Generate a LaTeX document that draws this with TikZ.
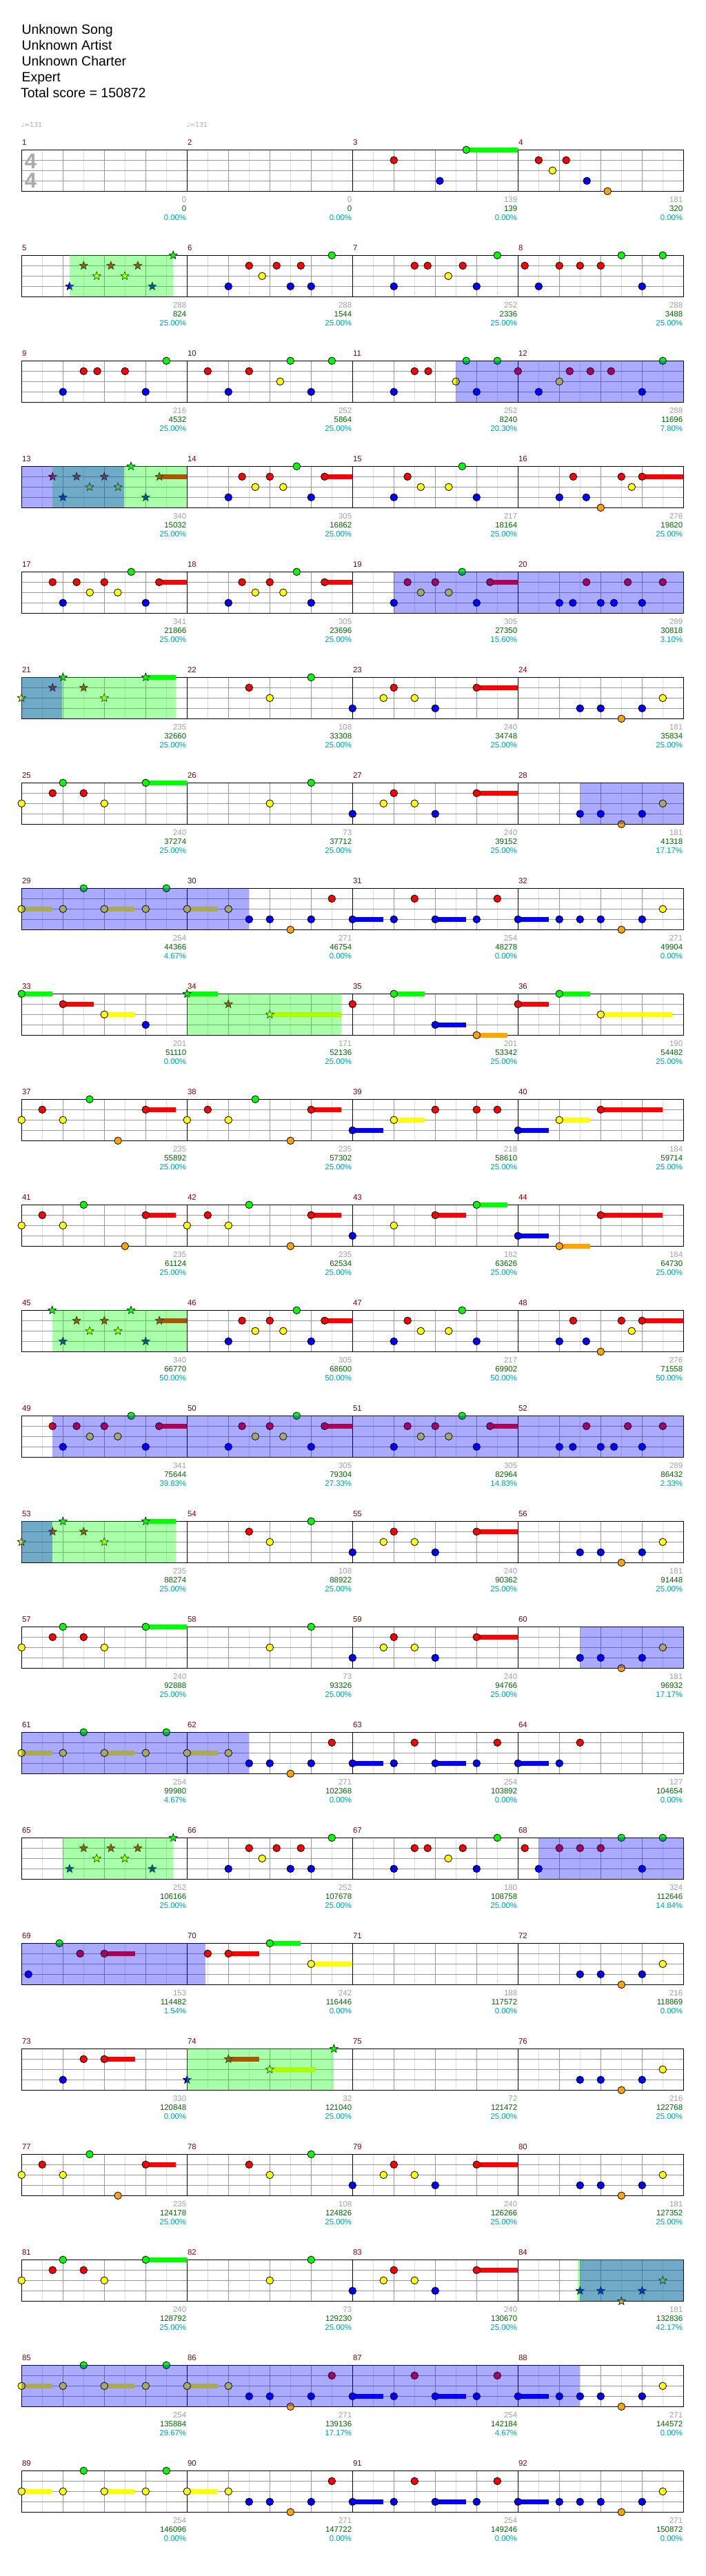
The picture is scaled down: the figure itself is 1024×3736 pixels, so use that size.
\documentclass[tikz,border=0pt]{standalone}
\usepackage{fontspec}
\setmainfont{Liberation Sans}
\newfontfamily\djv{DejaVu Sans}
\usetikzlibrary{shapes.geometric}
\pgfdeclarelayer{gridl}
\pgfdeclarelayer{susl}
\pgfdeclarelayer{overg}
\pgfdeclarelayer{overb}
\pgfsetlayers{gridl,susl,main,overg,overb}
\definecolor{lane0}{RGB}{0,255,0}
\definecolor{lane1}{RGB}{255,0,0}
\definecolor{lane2}{RGB}{255,255,0}
\definecolor{lane3}{RGB}{0,0,255}
\definecolor{lane4}{RGB}{255,165,0}
\definecolor{gridlt}{RGB}{221,221,221}
\definecolor{griddk}{RGB}{153,153,153}
\definecolor{mnum}{RGB}{128,0,0}
\definecolor{lgray}{RGB}{160,160,160}
\definecolor{lgreen}{RGB}{0,100,0}
\definecolor{lcyan}{RGB}{0,160,160}
\definecolor{tsig}{RGB}{170,170,170}
\newcounter{ntc}
\newcommand\mxy[3]{\pgfmathsetmacro\X{31.3+240*mod(#1-1,4)+30*#3}\pgfmathsetmacro\Y{217.3+153*floor((#1-1)/4)+15*#2}}
\newcommand\ntn[3]{\mxy{#1}{#2}{#3}\stepcounter{ntc}\node[note,fill=lane#2] (n\arabic{ntc}) at (\X,\Y) {};}
\newcommand\stn[3]{\mxy{#1}{#2}{#3}\stepcounter{ntc}\node[starnote,fill=lane#2] (n\arabic{ntc}) at (\X,\Y) {};}
\newcommand\sus[4]{\mxy{#1}{#2}{#3}\let\Xa\X\mxy{#1}{#2}{#4}\begin{pgfonlayer}{susl}\draw[line width=6.5,draw=lane#2] (\Xa,\Y) -- (\X,\Y);\end{pgfonlayer}}
\newcommand\greg[3]{\mxy{#1}{0}{#2}\let\Xa\X\let\Ya\Y\mxy{#1}{4}{#3}\begin{pgfonlayer}{overg}\fill[lane0,fill opacity=0.3333] (\Xa,\Ya) rectangle (\X,\Y);\end{pgfonlayer}}
\newcommand\breg[3]{\mxy{#1}{0}{#2}\let\Xa\X\let\Ya\Y\mxy{#1}{4}{#3}\begin{pgfonlayer}{overb}\fill[lane3,fill opacity=0.3333] (\Xa,\Ya) rectangle (\X,\Y);\end{pgfonlayer}}
\newcommand\mnum[1]{\pgfmathsetmacro\X{31.3+240*mod(#1-1,4)}\pgfmathsetmacro\Y{217.3+153*floor((#1-1)/4)}%
 \node[mlab] (m#1) at (\X+0.5,\Y-7) {#1};}
\newcommand\mlabel[4]{\mnum{#1}%
 \node[nlab,text=lgray] (g#1) at (\X+239,\Y+75.7) {#2};
 \node[nlab,text=lgreen] (s#1) at (\X+239,\Y+89) {#3};
 \node[nlab,text=lcyan] (p#1) at (\X+239,\Y+102) {#4\%};}
% patterns
\newcommand\rpA[1]{\ntn{#1}{3}{2}\ntn{#1}{1}{2.66}\ntn{#1}{2}{3.3}\ntn{#1}{1}{4}\ntn{#1}{2}{4.65}\ntn{#1}{0}{5.3}\ntn{#1}{3}{6}\sus{#1}{1}{6.65}{8}\ntn{#1}{1}{6.65}}
\newcommand\rpB[1]{\ntn{#1}{3}{2}\ntn{#1}{1}{2.66}\ntn{#1}{2}{3.3}\ntn{#1}{2}{4.65}\ntn{#1}{0}{5.3}\ntn{#1}{3}{6}}
\newcommand\rpC[1]{\ntn{#1}{3}{2}\ntn{#1}{1}{2.67}\ntn{#1}{3}{3.3}\ntn{#1}{4}{4}\ntn{#1}{1}{5}\ntn{#1}{2}{5.5}\sus{#1}{1}{6}{8}\ntn{#1}{1}{6}}
\newcommand\rpF[1]{\ntn{#1}{3}{2}\ntn{#1}{3}{2.65}\ntn{#1}{1}{3.31}\ntn{#1}{3}{4}\ntn{#1}{3}{4.64}\ntn{#1}{1}{5.31}\ntn{#1}{3}{6}\ntn{#1}{1}{7}}
\newcommand\rpG[1]{\stn{#1}{2}{0}\stn{#1}{1}{1.5}\stn{#1}{0}{2}\stn{#1}{1}{3}\stn{#1}{2}{4}\sus{#1}{0}{6}{7.47}\stn{#1}{0}{6}}
\newcommand\rpH[1]{\ntn{#1}{1}{3}\ntn{#1}{2}{4}\ntn{#1}{0}{6}}
\newcommand\rpI[1]{\ntn{#1}{3}{0}\ntn{#1}{2}{1.5}\ntn{#1}{1}{2}\ntn{#1}{2}{3}\ntn{#1}{3}{4}\sus{#1}{1}{6}{8}\ntn{#1}{1}{6}}
\newcommand\rpJ[1]{\ntn{#1}{3}{3}\ntn{#1}{3}{4}\ntn{#1}{4}{5}\ntn{#1}{3}{6}\ntn{#1}{2}{7}}
\newcommand\rpJs[1]{\stn{#1}{3}{3}\stn{#1}{3}{4}\stn{#1}{4}{5}\stn{#1}{3}{6}\stn{#1}{2}{7}}
\newcommand\rpK[1]{\ntn{#1}{2}{0}\ntn{#1}{1}{1.5}\ntn{#1}{0}{2}\ntn{#1}{1}{3}\ntn{#1}{2}{4}\sus{#1}{0}{6}{8}\ntn{#1}{0}{6}}
\newcommand\rpL[1]{\ntn{#1}{2}{4}\ntn{#1}{0}{6}}
\newcommand\rpM[1]{\sus{#1}{2}{0}{1.48}\ntn{#1}{2}{0}\ntn{#1}{2}{2}\ntn{#1}{0}{3}\sus{#1}{2}{4}{5.46}\ntn{#1}{2}{4}\ntn{#1}{2}{6}\ntn{#1}{0}{7}}
\newcommand\rpN[1]{\sus{#1}{2}{0}{1.48}\ntn{#1}{2}{0}\ntn{#1}{2}{2}\ntn{#1}{3}{3}\ntn{#1}{3}{4}\ntn{#1}{4}{5}\ntn{#1}{3}{6}\ntn{#1}{1}{7}}
\newcommand\rpO[1]{\sus{#1}{3}{0}{1.48}\ntn{#1}{3}{0}\ntn{#1}{3}{2}\ntn{#1}{1}{3}\sus{#1}{3}{4}{5.48}\ntn{#1}{3}{4}\ntn{#1}{3}{6}\ntn{#1}{1}{7}}
\newcommand\rpV[1]{\sus{#1}{3}{0}{1.48}\ntn{#1}{3}{0}\ntn{#1}{3}{2}\ntn{#1}{3}{3}\ntn{#1}{3}{4}\ntn{#1}{4}{5}\ntn{#1}{3}{6}\ntn{#1}{2}{7}}
\newcommand\rpU[1]{\ntn{#1}{2}{0}\ntn{#1}{1}{1}\ntn{#1}{2}{2}\ntn{#1}{0}{3.29}\ntn{#1}{4}{4.66}\sus{#1}{1}{6}{7.47}\ntn{#1}{1}{6}}
\newcommand\rpS[1]{\stn{#1}{3}{2}\stn{#1}{1}{2.66}\stn{#1}{2}{3.29}\stn{#1}{1}{4}\stn{#1}{2}{4.66}\stn{#1}{0}{5.29}\stn{#1}{3}{6}\sus{#1}{1}{6.66}{8}\stn{#1}{1}{6.66}}
\newcommand\rpP[1]{\stn{#1}{3}{2.32}\stn{#1}{1}{3}\stn{#1}{2}{3.63}\stn{#1}{1}{4.32}\stn{#1}{2}{4.99}\stn{#1}{1}{5.62}\stn{#1}{3}{6.32}\stn{#1}{0}{7.33}}
\newcommand\rpQ[1]{\ntn{#1}{3}{2}\ntn{#1}{1}{3}\ntn{#1}{2}{3.63}\ntn{#1}{1}{4.33}\ntn{#1}{3}{5}\ntn{#1}{1}{5.5}\ntn{#1}{3}{6}\ntn{#1}{0}{7}}
\newcommand\rpR[1]{\ntn{#1}{3}{2}\ntn{#1}{1}{3}\ntn{#1}{1}{3.63}\ntn{#1}{2}{4.63}\ntn{#1}{1}{5.33}\ntn{#1}{3}{6}\ntn{#1}{0}{7}}
\newcommand\rpT[1]{\ntn{#1}{1}{0.33}\ntn{#1}{3}{1}\ntn{#1}{1}{2}\ntn{#1}{1}{3}\ntn{#1}{1}{4}\ntn{#1}{0}{5}\ntn{#1}{3}{6}\ntn{#1}{0}{7}}
\begin{document}
\begin{tikzpicture}[x=1pt,y=-1pt,
  note/.style={circle,draw=black,line width=0.8,minimum size=10.6,inner sep=0},
  starnote/.style={star,star points=5,star point ratio=2.3,draw=black,line width=0.6,minimum size=12.5,inner sep=0},
  mlab/.style={anchor=base west,inner sep=0,text=mnum,font=\fontsize{11.4}{12}\selectfont},
  nlab/.style={anchor=base east,inner sep=0,font=\fontsize{11.4}{12}\selectfont},
  head/.style={anchor=base west,inner sep=0,font=\fontsize{19.5}{20}\selectfont}]
\useasboundingbox (0,0) rectangle (1024,3736);
\begin{pgfonlayer}{gridl}
\fill[white] (0,0) rectangle (1024,3736);
\foreach \r in {0,...,22}{
  \pgfmathsetmacro\T{217.3+153*\r}
  \foreach \k in {1,3,...,31} \draw[gridlt,line width=1] (31.3+30*\k,\T) -- ++(0,60);
  \foreach \k in {2,4,...,30} \draw[griddk,line width=1] (31.3+30*\k,\T) -- ++(0,60);
  \foreach \l in {1,2,3} \draw[griddk,line width=1] (31.3,\T+15*\l) -- ++(960,0);
  \foreach \k in {8,16,24} \draw[black,line width=1] (31.3+30*\k,\T) -- ++(0,60);
  \draw[black,line width=1.1] (31.3,\T) rectangle ++(960,60);
}
\end{pgfonlayer}
% header
\node[head] (h1) at (31.3,49.3) {Unknown Song};
\node[head] (h2) at (31.3,72.4) {Unknown Artist};
\node[head] (h3) at (31.3,95.6) {Unknown Charter};
\node[head] (h4) at (31.3,118.7) {Expert};
\node[head] (h5) at (29.8,141.8) {Total score = 150872};
\node[anchor=base west,inner sep=0,text=tsig,font=\djv\fontsize{9.5}{10}\selectfont] (tp1) at (30.5,184.5) {♩=131};
\node[anchor=base west,inner sep=0,text=tsig,font=\djv\fontsize{9.5}{10}\selectfont] (tp2) at (270.5,184.5) {♩=131};
\node[inner sep=0,text=tsig,font=\bfseries\fontsize{31}{31}\selectfont] (ts1) at (44.5,233.7) {4};
\node[inner sep=0,text=tsig,font=\bfseries\fontsize{31}{31}\selectfont] (ts2) at (44.5,262.3) {4};
% row 0
\mlabel{1}{0}{0}{0.00}\mlabel{2}{0}{0}{0.00}\mlabel{3}{139}{139}{0.00}\mlabel{4}{181}{320}{0.00}
\ntn{3}{1}{2}\ntn{3}{3}{4.22}\sus{3}{0}{5.5}{8}\ntn{3}{0}{5.5}
\ntn{4}{1}{1}\ntn{4}{2}{1.67}\ntn{4}{1}{2.33}\ntn{4}{3}{3.33}\ntn{4}{4}{4.33}
% row 1
\mlabel{5}{288}{824}{25.00}\mlabel{6}{288}{1544}{25.00}\mlabel{7}{252}{2336}{25.00}\mlabel{8}{288}{3488}{25.00}
\greg{5}{2.32}{7.31}\rpP{5}
\rpQ{6}\rpR{7}\rpT{8}
% row 2
\mlabel{9}{216}{4532}{25.00}\mlabel{10}{252}{5864}{25.00}\mlabel{11}{252}{8240}{20.30}\mlabel{12}{288}{11696}{7.80}
\ntn{9}{3}{2}\ntn{9}{1}{3}\ntn{9}{1}{3.66}\ntn{9}{1}{5}\ntn{9}{3}{6}\ntn{9}{0}{7}
\ntn{10}{1}{1}\ntn{10}{3}{2}\ntn{10}{1}{3}\ntn{10}{2}{4.5}\ntn{10}{0}{5}\ntn{10}{3}{6}\ntn{10}{0}{7}
\breg{11}{4.98}{8}
\ntn{11}{3}{2}\ntn{11}{1}{3}\ntn{11}{1}{3.66}\ntn{11}{2}{5}\ntn{11}{0}{5.5}\ntn{11}{3}{6}\ntn{11}{0}{7}
\breg{12}{0}{8}
\ntn{12}{1}{0}\ntn{12}{3}{1}\ntn{12}{2}{2}\ntn{12}{1}{2.5}\ntn{12}{1}{3.5}\ntn{12}{1}{4.5}\ntn{12}{3}{6}\ntn{12}{0}{7}
% row 3
\mlabel{13}{340}{15032}{25.00}\mlabel{14}{305}{16862}{25.00}\mlabel{15}{217}{18164}{25.00}\mlabel{16}{276}{19820}{25.00}
\breg{13}{0}{4.96}\greg{13}{1.48}{8}
\stn{13}{1}{1.5}\rpS{13}
\rpA{14}\rpB{15}\rpC{16}
% row 4
\mlabel{17}{341}{21866}{25.00}\mlabel{18}{305}{23696}{25.00}\mlabel{19}{305}{27350}{15.60}\mlabel{20}{289}{30818}{3.10}
\ntn{17}{1}{1.5}\rpA{17}\rpA{18}
\breg{19}{2}{8}\rpA{19}
\breg{20}{0}{8}\rpF{20}
% row 5
\mlabel{21}{235}{32660}{25.00}\mlabel{22}{108}{33308}{25.00}\mlabel{23}{240}{34748}{25.00}\mlabel{24}{181}{35834}{25.00}
\greg{21}{0}{7.47}\breg{21}{0}{1.96}\rpG{21}
\rpH{22}\rpI{23}\rpJ{24}
% row 6
\mlabel{25}{240}{37274}{25.00}\mlabel{26}{73}{37712}{25.00}\mlabel{27}{240}{39152}{25.00}\mlabel{28}{181}{41318}{17.17}
\rpK{25}\rpL{26}\rpI{27}\breg{28}{2.98}{8}\rpJ{28}
% row 7
\mlabel{29}{254}{44366}{4.67}\mlabel{30}{271}{46754}{0.00}\mlabel{31}{254}{48278}{0.00}\mlabel{32}{271}{49904}{0.00}
\breg{29}{0}{8}\rpM{29}\breg{30}{0}{3}\rpN{30}\rpO{31}\rpV{32}
% row 8
\mlabel{33}{201}{51110}{0.00}\mlabel{34}{171}{52136}{25.00}\mlabel{35}{201}{53342}{25.00}\mlabel{36}{190}{54482}{25.00}
\sus{33}{0}{0}{1.48}\ntn{33}{0}{0}\sus{33}{1}{2}{3.48}\ntn{33}{1}{2}\sus{33}{2}{4}{5.48}\ntn{33}{2}{4}\ntn{33}{3}{6}
\greg{34}{0}{7.47}\sus{34}{0}{0}{1.48}\stn{34}{0}{0}\stn{34}{1}{2}\sus{34}{2}{4}{7.47}\stn{34}{2}{4}
\ntn{35}{1}{0}\sus{35}{0}{2}{3.48}\ntn{35}{0}{2}\sus{35}{3}{4}{5.48}\ntn{35}{3}{4}\sus{35}{4}{6}{7.48}\ntn{35}{4}{6}
\sus{36}{1}{0}{1.48}\ntn{36}{1}{0}\sus{36}{0}{2}{3.48}\ntn{36}{0}{2}\sus{36}{2}{4}{7.47}\ntn{36}{2}{4}
% row 9
\mlabel{37}{235}{55892}{25.00}\mlabel{38}{235}{57302}{25.00}\mlabel{39}{218}{58610}{25.00}\mlabel{40}{184}{59714}{25.00}
\rpU{37}
\ntn{38}{2}{0}\ntn{38}{1}{1}\ntn{38}{2}{2}\ntn{38}{0}{3.3}\ntn{38}{4}{5}\sus{38}{1}{6}{7.47}\ntn{38}{1}{6}
\sus{39}{3}{0}{1.48}\ntn{39}{3}{0}\sus{39}{2}{2}{3.48}\ntn{39}{2}{2}\ntn{39}{1}{4}\ntn{39}{1}{6}\ntn{39}{1}{7}
\sus{40}{3}{0}{1.48}\ntn{40}{3}{0}\sus{40}{2}{2}{3.48}\ntn{40}{2}{2}\sus{40}{1}{4}{7}\ntn{40}{1}{4}
% row 10
\mlabel{41}{235}{61124}{25.00}\mlabel{42}{235}{62534}{25.00}\mlabel{43}{182}{63626}{25.00}\mlabel{44}{184}{64730}{25.00}
\ntn{41}{2}{0}\ntn{41}{1}{1}\ntn{41}{2}{2}\ntn{41}{0}{3}\ntn{41}{4}{5}\sus{41}{1}{6}{7.47}\ntn{41}{1}{6}
\ntn{42}{2}{0}\ntn{42}{1}{1}\ntn{42}{2}{2}\ntn{42}{0}{3}\ntn{42}{4}{5}\sus{42}{1}{6}{7.47}\ntn{42}{1}{6}
\ntn{43}{3}{0}\ntn{43}{2}{2}\sus{43}{1}{4}{5.48}\ntn{43}{1}{4}\sus{43}{0}{6}{7.48}\ntn{43}{0}{6}
\sus{44}{3}{0}{1.48}\ntn{44}{3}{0}\sus{44}{4}{2}{3.48}\ntn{44}{4}{2}\sus{44}{1}{4}{7}\ntn{44}{1}{4}
% row 11
\mlabel{45}{340}{66770}{50.00}\mlabel{46}{305}{68600}{50.00}\mlabel{47}{217}{69902}{50.00}\mlabel{48}{276}{71558}{50.00}
\greg{45}{1.48}{8}\stn{45}{0}{1.48}\rpS{45}
\rpA{46}\rpB{47}\rpC{48}
% row 12
\mlabel{49}{341}{75644}{39.83}\mlabel{50}{305}{79304}{27.33}\mlabel{51}{305}{82964}{14.83}\mlabel{52}{289}{86432}{2.33}
\breg{49}{1.48}{8}\ntn{49}{1}{1.5}\rpA{49}
\breg{50}{0}{8}\rpA{50}\breg{51}{0}{8}\rpA{51}\breg{52}{0}{8}\rpF{52}
% row 13
\mlabel{53}{235}{88274}{25.00}\mlabel{54}{108}{88922}{25.00}\mlabel{55}{240}{90362}{25.00}\mlabel{56}{181}{91448}{25.00}
\greg{53}{0}{7.47}\breg{53}{0}{1.48}\rpG{53}
\rpH{54}\rpI{55}\rpJ{56}
% row 14
\mlabel{57}{240}{92888}{25.00}\mlabel{58}{73}{93326}{25.00}\mlabel{59}{240}{94766}{25.00}\mlabel{60}{181}{96932}{17.17}
\rpK{57}\rpL{58}\rpI{59}\breg{60}{2.98}{8}\rpJ{60}
% row 15
\mlabel{61}{254}{99980}{4.67}\mlabel{62}{271}{102368}{0.00}\mlabel{63}{254}{103892}{0.00}\mlabel{64}{127}{104654}{0.00}
\breg{61}{0}{8}\rpM{61}\breg{62}{0}{3}\rpN{62}\rpO{63}
\sus{64}{3}{0}{1.48}\ntn{64}{3}{0}\ntn{64}{3}{2}\ntn{64}{1}{3}
% row 16
\mlabel{65}{252}{106166}{25.00}\mlabel{66}{252}{107678}{25.00}\mlabel{67}{180}{108758}{25.00}\mlabel{68}{324}{112646}{14.84}
\greg{65}{2.0}{7.31}\rpP{65}
\rpQ{66}\rpR{67}\breg{68}{1}{8}\rpT{68}
% row 17
\mlabel{69}{153}{114482}{1.54}\mlabel{70}{242}{116446}{0.00}\mlabel{71}{188}{117572}{0.00}\mlabel{72}{216}{118869}{0.00}
\breg{69}{0}{8}\breg{70}{0}{0.9}
\ntn{69}{3}{0.33}\ntn{69}{0}{1.83}\ntn{69}{1}{2.83}\sus{69}{1}{4}{5.48}\ntn{69}{1}{4}
\ntn{70}{1}{1}\sus{70}{1}{2}{3.48}\ntn{70}{1}{2}\sus{70}{0}{4}{5.48}\ntn{70}{0}{4}\sus{70}{2}{6}{8}\ntn{70}{2}{6}
\rpJ{72}
% row 18
\mlabel{73}{330}{120848}{0.00}\mlabel{74}{32}{121040}{25.00}\mlabel{75}{72}{121472}{25.00}\mlabel{76}{216}{122768}{25.00}
\ntn{73}{3}{2}\ntn{73}{1}{3}\sus{73}{1}{4}{5.48}\ntn{73}{1}{4}
\greg{74}{0}{7.1}\stn{74}{3}{0}\sus{74}{1}{2}{3.48}\stn{74}{1}{2}\sus{74}{2}{4}{6.2}\stn{74}{2}{4}\stn{74}{0}{7.1}
\rpJ{76}
% row 19
\mlabel{77}{235}{124178}{25.00}\mlabel{78}{108}{124826}{25.00}\mlabel{79}{240}{126266}{25.00}\mlabel{80}{181}{127352}{25.00}
\rpU{77}\rpH{78}\rpI{79}\rpJ{80}
% row 20
\mlabel{81}{240}{128792}{25.00}\mlabel{82}{73}{129230}{25.00}\mlabel{83}{240}{130670}{25.00}\mlabel{84}{181}{132836}{42.17}
\rpK{81}\rpL{82}\rpI{83}\greg{84}{2.9}{8}\breg{84}{2.98}{8}\rpJs{84}
% row 21
\mlabel{85}{254}{135884}{29.67}\mlabel{86}{271}{139136}{17.17}\mlabel{87}{254}{142184}{4.67}\mlabel{88}{271}{144572}{0.00}
\breg{85}{0}{8}\breg{86}{0}{8}\breg{87}{0}{8}\breg{88}{0}{3}
\rpM{85}\rpN{86}\rpO{87}\rpV{88}
% row 22
\mlabel{89}{254}{146096}{0.00}\mlabel{90}{271}{147722}{0.00}\mlabel{91}{254}{149246}{0.00}\mlabel{92}{271}{150872}{0.00}
\rpM{89}\rpN{90}\rpO{91}\rpV{92}
\end{tikzpicture}
\end{document}
